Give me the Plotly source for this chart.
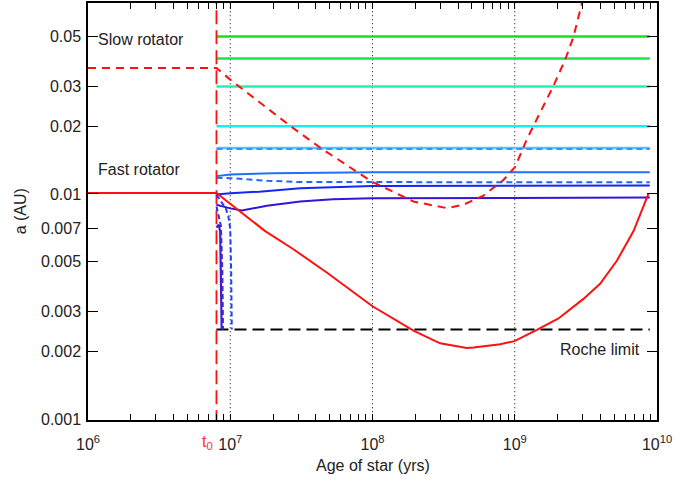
import numpy as np
import plotly.graph_objects as go

# ---------------- data ----------------
T0 = 8.0e6
T_END = 8.9e9

# horizontal (surviving) planet tracks: levels in AU
level_t = [T0, T_END]
green1_a = [0.0500, 0.0500]
green2_a = [0.0400, 0.0400]
aqua_a = [0.0300, 0.0300]
cyan_a = [0.0200, 0.0200]
sky_a = [0.0160, 0.0160]
sky_dash_a = [0.01585, 0.01585]

blue1_t = [8.0e6, 1.0e7, 2.0e7, 5.0e7, 1.0e8, 8.9e9]
blue1_a = [0.0120, 0.0122, 0.01235, 0.01245, 0.0125, 0.0125]

blue_dash_t = [8.0e6, 1.0e7, 1.8e7, 3.0e7, 8.9e9]
blue_dash_a = [0.0118, 0.01175, 0.01145, 0.0113, 0.01126]

blue2_t = [8.0e6, 1.0e7, 1.6e7, 3.1e7, 1.0e8, 8.9e9]
blue2_a = [0.00994, 0.01007, 0.01024, 0.0106, 0.01085, 0.01089]

purple_t = [8.0e6, 1.0e7, 1.21e7, 1.81e7, 3.1e7, 5.28e7, 1.0e8, 8.9e9]
purple_a = [0.00895, 0.00863, 0.00845, 0.00887, 0.00926, 0.00948, 0.00957, 0.00964]

# planets that spiral in to the Roche limit
fall1_t = [8.0e6, 8.3e6, 8.5e6, 8.6e6, 8.7e6]
fall1_a = [0.0071, 0.0073, 0.0068, 0.0040, 0.0025]
fall2_t = [8.0e6, 8.3e6, 8.6e6, 8.8e6, 8.9e6]
fall2_a = [0.0088, 0.0080, 0.0072, 0.0045, 0.0025]
fall3_t = [8.0e6, 9.29e6, 9.7e6, 1.0e7, 1.015e7, 1.025e7]
fall3_a = [0.0099, 0.00865, 0.00796, 0.0070, 0.0045, 0.0025]

# Roche limit
roche_t = [T0, T_END]
roche_a = [0.0025, 0.0025]

# stellar corotation radius: fast rotator (solid) and slow rotator (dashed)
fast_t = [1.0e6, 8.0e6, 1.76e7, 2.78e7, 4.77e7, 1.0e8, 1.94e8, 2.99e8, 4.6e8,
          5.13e8, 7.9e8, 9.95e8, 1.43e9, 2.03e9, 3.04e9, 3.98e9, 5.22e9, 6.84e9, 8.7e9]
fast_a = [0.0101, 0.0101, 0.00684, 0.00568, 0.00448, 0.00317, 0.00247, 0.00217, 0.00207,
          0.00208, 0.00215, 0.00222, 0.00249, 0.0028, 0.00342, 0.00399, 0.00505, 0.00684, 0.0100]

slow_t = [1.0e6, 8.0e6, 1.0e7, 2.71e7, 4.4e7, 9.9e7, 1.94e8, 3.33e8, 4.36e8, 6.03e8,
          8.32e8, 1.007e9, 1.22e9, 1.43e9, 1.87e9, 2.26e9, 2.59e9, 2.96e9, 3.3e9]
slow_a = [0.0363, 0.0363, 0.0322, 0.0198, 0.01588, 0.01134, 0.00926, 0.00865, 0.00896, 0.00984,
          0.01153, 0.0132, 0.01757, 0.0215, 0.0302, 0.0394, 0.050, 0.070, 0.090]

vline_t = [1.0e7, 1.0e8, 1.0e9]
full_a = [1e-4, 1.0]

y_ticks = [0.001, 0.002, 0.003, 0.005, 0.007, 0.01, 0.02, 0.03, 0.05]
y_ticktext = ["0.001", "0.002", "0.003", "0.005", "0.007", "0.01", "0.02", "0.03", "0.05"]
decades = [6, 7, 8, 9, 10]

# ---------------- figure ----------------
fig = go.Figure()

def line(t, a, color, width=2.0, dash="solid"):
    fig.add_trace(go.Scatter(x=t, y=a, mode="lines",
                             line=dict(color=color, width=width, dash=dash),
                             hoverinfo="skip", showlegend=False))

# dotted decade lines
for v in vline_t:
    line([v, v], full_a, "black", 1.0, "1px,3px")

line(level_t, green1_a, "#1adf1a", 2.5)
line(level_t, green2_a, "#14e84a", 2.5)
line(level_t, aqua_a, "#22f0b4", 2.5)
line(level_t, cyan_a, "#10f0f0", 2.5)
line(level_t, sky_a, "#50c8ff", 2.5)
line(level_t, sky_dash_a, "#2a98ff", 2.0, "6px,4px")
line(blue1_t, blue1_a, "#2070ff", 2.0)
line(blue_dash_t, blue_dash_a, "#2266ff", 2.0, "6px,4px")
line(blue2_t, blue2_a, "#1428f0", 2.0)
line(purple_t, purple_a, "#3a12d8", 2.0)

line(roche_t, roche_a, "black", 2.0, "12px,6px")

line(fast_t, fast_a, "#ff1010", 2.0)
line(slow_t, slow_a, "#ff1010", 2.0, "8px,6px")

# t0 vertical
line([T0, T0], full_a, "#ff1010", 1.8, "14px,6px")

line(fall1_t, fall1_a, "#4a18c8", 2.2)
line(fall2_t, fall2_a, "#3030e0", 2.0, "5px,3px")
line(fall3_t, fall3_a, "#2040ff", 2.0, "5px,3px")

# x ticks: decades labelled, intermediate unlabelled
x_tickvals, x_ticktext = [], []
for d in decades:
    for m in range(1, 10):
        if d == 10 and m > 1:
            break
        x_tickvals.append(m * 10.0 ** d)
        x_ticktext.append(f"10<sup>{d}</sup>" if m == 1 else "")

font_family = "Liberation Sans, Arial, Helvetica, sans-serif"
fig.update_layout(
    width=698, height=481,
    margin=dict(l=88, r=41, t=1, b=61),
    paper_bgcolor="white", plot_bgcolor="white",
    font=dict(family=font_family, size=16, color="#222"),
    showlegend=False,
    xaxis=dict(type="log", range=[6, 10], showgrid=False, zeroline=False,
               showline=True, linecolor="black", linewidth=1.5, mirror="ticks",
               ticks="inside", ticklen=6, tickcolor="black", tickwidth=1,
               tickvals=x_tickvals, ticktext=x_ticktext, ticklabelstandoff=9,
               tickfont=dict(size=16, color="#222")),
    yaxis=dict(type="log", range=[-3.004, np.log10(0.0705)], showgrid=False, zeroline=False,
               showline=True, linecolor="black", linewidth=1.5, mirror="ticks",
               ticks="inside", ticklen=10, tickcolor="black", tickwidth=1,
               tickvals=y_ticks, ticktext=y_ticktext, ticklabelstandoff=2,
               tickfont=dict(size=16, color="#222")),
)

ann_font = dict(family=font_family, size=16, color="#222")
fig.add_annotation(text="Slow rotator", x=np.log10(1.13e6), y=np.log10(0.0485),
                   xanchor="left", yanchor="middle", showarrow=False, font=ann_font)
fig.add_annotation(text="Fast rotator", x=np.log10(1.13e6), y=np.log10(0.0128),
                   xanchor="left", yanchor="middle", showarrow=False, font=ann_font)
fig.add_annotation(text="Roche limit", x=np.log10(7.9e9), y=np.log10(0.00203),
                   xanchor="right", yanchor="middle", showarrow=False, font=ann_font)
fig.add_annotation(text="t<sub>0</sub>", x=np.log10(T0), y=0, yref="paper",
                   xanchor="center", yanchor="top", yshift=-11, xshift=-9, showarrow=False,
                   font=dict(family=font_family, size=16, color="#ff3030"))
fig.add_annotation(text="Age of star (yrs)", x=0.5, y=-0.11, xref="paper", yref="paper",
                   xanchor="center", yanchor="middle", showarrow=False, font=ann_font)
fig.add_annotation(text="a (AU)", x=-0.118, y=0.5, xref="paper", yref="paper",
                   xanchor="center", yanchor="middle", textangle=-90, showarrow=False,
                   font=ann_font)

fig.write_html("out.html", config={"displayModeBar": False},
               post_script="document.body.style.margin='0';document.body.style.padding='0';")
